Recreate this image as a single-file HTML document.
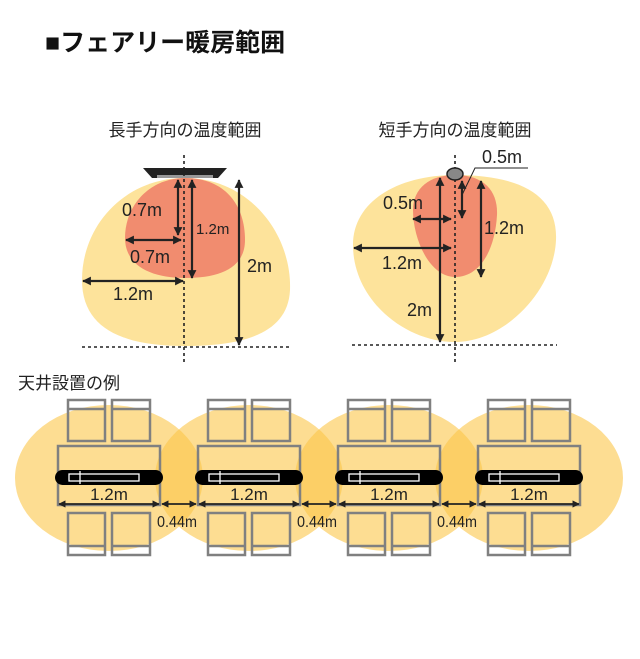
<!DOCTYPE html>
<html><head><meta charset="utf-8"><style>
html,body{margin:0;padding:0;background:#fff;width:640px;height:659px;overflow:hidden}
svg{display:block}
text{font-family:"Liberation Sans","Noto Sans CJK JP",sans-serif;fill:#222}
</style></head><body>
<svg width="640" height="659" viewBox="0 0 640 659" xmlns="http://www.w3.org/2000/svg">
<defs>
<marker id="a" viewBox="0 0 10 10" refX="9" refY="5" markerWidth="4" markerHeight="4" orient="auto-start-reverse"><path d="M0,0L10,5L0,10z" fill="#222"/></marker>
</defs>
<text x="45" y="51" font-size="25" font-weight="bold" style="fill:#111">■フェアリー暖房範囲</text>

<!-- left diagram -->
<text x="185" y="136" font-size="17" text-anchor="middle">長手方向の温度範囲</text>
<path d="M185,178 C250,178 292,235 290,290 C288,335 240,346 185,346 C125,346 82,330 82,280 C82,225 125,178 185,178Z" fill="#fde39b"/>
<path d="M185,178 C225,178 245,205 245,240 C245,268 220,278 185,278 C150,278 125,265 125,238 C125,205 150,178 185,178Z" fill="#f18c6f"/>
<path d="M143,168 L227,168 L218,178 L152,178Z" fill="#222"/>
<rect x="157" y="175" width="56" height="3" fill="#999"/>
<line x1="184" y1="155" x2="184" y2="362" stroke="#222" stroke-width="1.6" stroke-dasharray="3,3"/>
<line x1="82" y1="347" x2="290" y2="347" stroke="#222" stroke-width="1.6" stroke-dasharray="3,3"/>
<g stroke="#222" stroke-width="2.2" marker-start="url(#a)" marker-end="url(#a)">
<line x1="178" y1="180" x2="178" y2="235"/>
<line x1="126" y1="240" x2="181" y2="240"/>
<line x1="192" y1="180" x2="192" y2="278"/>
<line x1="83" y1="281" x2="183" y2="281"/>
<line x1="239" y1="180" x2="239" y2="345"/>
</g>
<text x="122" y="216" font-size="18">0.7m</text>
<text x="196" y="234" font-size="15">1.2m</text>
<text x="130" y="263" font-size="18">0.7m</text>
<text x="113" y="300" font-size="18">1.2m</text>
<text x="247" y="272" font-size="18">2m</text>

<!-- right diagram -->
<text x="455" y="136" font-size="17" text-anchor="middle">短手方向の温度範囲</text>
<path d="M455,175 C520,175 558,195 556,240 C554,290 505,342 455,342 C405,342 353,300 353,245 C353,200 400,175 455,175Z" fill="#fde39b"/>
<path d="M455,175 C485,175 498,192 497,215 C495,250 480,277 455,277 C430,277 413,240 413,210 C413,188 430,175 455,175Z" fill="#f18c6f"/>
<line x1="455" y1="155" x2="455" y2="362" stroke="#222" stroke-width="1.6" stroke-dasharray="3,3"/>
<line x1="352" y1="345" x2="557" y2="345" stroke="#222" stroke-width="1.6" stroke-dasharray="3,3"/>
<ellipse cx="455" cy="174" rx="8" ry="6" fill="#888" stroke="#222" stroke-width="1.5"/>
<g stroke="#222" stroke-width="2.2" marker-start="url(#a)" marker-end="url(#a)">
<line x1="440" y1="178" x2="440" y2="342"/>
<line x1="462" y1="181" x2="462" y2="218"/>
<line x1="481" y1="181" x2="481" y2="277"/>
<line x1="413" y1="219" x2="451" y2="219"/>
<line x1="354" y1="248" x2="451" y2="248"/>
</g>
<polyline points="462,195 475,168 528,168" fill="none" stroke="#222" stroke-width="1"/>
<text x="482" y="163" font-size="18">0.5m</text>
<text x="383" y="209" font-size="18">0.5m</text>
<text x="484" y="234" font-size="18">1.2m</text>
<text x="382" y="269" font-size="18">1.2m</text>
<text x="407" y="316" font-size="18">2m</text>

<!-- bottom -->
<text x="18" y="389" font-size="17">天井設置の例</text>
<g fill="#fbc64a" fill-opacity="0.6">
<ellipse cx="109" cy="478" rx="94" ry="73"/>
<ellipse cx="249" cy="478" rx="94" ry="73"/>
<ellipse cx="389" cy="478" rx="94" ry="73"/>
<ellipse cx="529" cy="478" rx="94" ry="73"/>
</g>
<g id="u">
<g fill="none" stroke="#808080" stroke-width="2.5">
<rect x="68" y="400" width="37" height="41"/><line x1="68" y1="409" x2="105" y2="409"/>
<rect x="112" y="400" width="38" height="41"/><line x1="112" y1="409" x2="150" y2="409"/>
<rect x="58" y="446" width="102" height="59"/>
<rect x="68" y="513" width="37" height="42"/><line x1="68" y1="546" x2="105" y2="546"/>
<rect x="112" y="513" width="38" height="42"/><line x1="112" y1="546" x2="150" y2="546"/>
</g>
<rect x="55" y="470" width="108" height="15" rx="7.5" fill="#000"/>
<g stroke="#fff" stroke-width="1.3" fill="none">
<rect x="69" y="474" width="70" height="7"/><line x1="80" y1="471" x2="80" y2="484"/>
</g>
<g stroke="#222" stroke-width="1.8" marker-start="url(#a)" marker-end="url(#a)">
<line x1="59" y1="504" x2="159" y2="504"/>
<line x1="162" y1="504" x2="196" y2="504"/>
</g>
<text x="109" y="500" font-size="17" text-anchor="middle">1.2m</text>
</g>
<use href="#u" x="140"/>
<use href="#u" x="280"/>
<g transform="translate(420,0)">
<g fill="none" stroke="#808080" stroke-width="2.5">
<rect x="68" y="400" width="37" height="41"/><line x1="68" y1="409" x2="105" y2="409"/>
<rect x="112" y="400" width="38" height="41"/><line x1="112" y1="409" x2="150" y2="409"/>
<rect x="58" y="446" width="102" height="59"/>
<rect x="68" y="513" width="37" height="42"/><line x1="68" y1="546" x2="105" y2="546"/>
<rect x="112" y="513" width="38" height="42"/><line x1="112" y1="546" x2="150" y2="546"/>
</g>
<rect x="55" y="470" width="108" height="15" rx="7.5" fill="#000"/>
<g stroke="#fff" stroke-width="1.3" fill="none">
<rect x="69" y="474" width="70" height="7"/><line x1="80" y1="471" x2="80" y2="484"/>
</g>
<line x1="59" y1="504" x2="159" y2="504" stroke="#222" stroke-width="1.8" marker-start="url(#a)" marker-end="url(#a)"/>
<text x="109" y="500" font-size="17" text-anchor="middle">1.2m</text>
</g>
<text x="157" y="527" font-size="16" textLength="40" lengthAdjust="spacingAndGlyphs">0.44m</text>
<text x="297" y="527" font-size="16" textLength="40" lengthAdjust="spacingAndGlyphs">0.44m</text>
<text x="437" y="527" font-size="16" textLength="40" lengthAdjust="spacingAndGlyphs">0.44m</text>
</svg>
</body></html>
